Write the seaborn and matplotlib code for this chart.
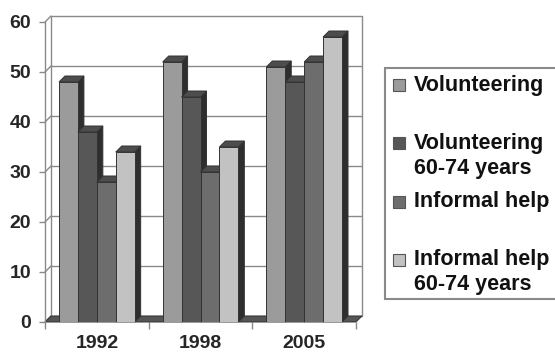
#!/usr/bin/env python3
# Volunteering / informal help by year, pseudo-3D grey bars like the old Excel chart

import numpy as np
import pandas as pd
import seaborn as sns
import matplotlib.pyplot as plt
from matplotlib.patches import Polygon, Rectangle

years = ['1992', '1998', '2005']
series = ['Volunteering', 'Volunteering\n60-74 years', 'Informal help', 'Informal help\n60-74 years']
volunteering = [48, 52, 51]
volunteering_6074 = [38, 45, 48]
informal = [28, 30, 52]
informal_6074 = [34, 35, 57]
yticks = [0, 10, 20, 30, 40, 50, 60]

front_cols = ['#9b9b9b', '#575757', '#6d6d6d', '#c2c2c2']
top_col = '#4d4d4d'
side_col = '#2e2e2e'
edge_col = '#333333'
grid_col = '#8a8a8a'
DX, DY = 6, 6  # depth offset in pixels

rows = []
for name, vals in zip(series, [volunteering, volunteering_6074, informal, informal_6074]):
    for yr, v in zip(years, vals):
        rows.append({'year': yr, 'series': name, 'value': v})
df = pd.DataFrame(rows)

sns.set_style('white')
plt.rcParams['font.family'] = ['Liberation Sans', 'DejaVu Sans']
plt.rcParams['font.weight'] = 'bold'

fig = plt.figure(figsize=(5.55, 3.55), dpi=100)
ax = fig.add_axes([45 / 555, 33 / 355, 311 / 555, 300 / 355])

sns.barplot(data=df, x='year', y='value', hue='series', hue_order=series, order=years,
            palette=front_cols, width=0.73, saturation=1, edgecolor=edge_col,
            linewidth=0.7, legend=False, ax=ax)
bars = list(ax.patches)

ax.set_xlim(-0.5, len(years) - 0.5)
ax.set_ylim(0, 60)

def off(x, y):
    # shift a data point by the depth offset (pixels) and bring it back to data coords
    d = ax.transData.transform((x, y)) + np.array([DX, DY])
    return tuple(ax.transData.inverted().transform(d))

x0, x1 = ax.get_xlim()
# back wall + gridlines
for yv in yticks:
    p0, p1 = off(x0, yv), off(x1, yv)
    ax.plot([p0[0], p1[0]], [p0[1], p1[1]], color=grid_col, lw=1, zorder=0.5, clip_on=False)
    ax.plot([x0, p0[0]], [yv, p0[1]], color=grid_col, lw=1, zorder=0.5, clip_on=False)
for xv in [x0, x1]:
    pb, pt = off(xv, 0), off(xv, 60)
    ax.plot([pb[0], pt[0]], [pb[1], pt[1]], color=grid_col, lw=1, zorder=0.5, clip_on=False)

# floor
floor = Polygon([(x0, 0), (x1, 0), off(x1, 0), off(x0, 0)], closed=True,
                facecolor='#555555', edgecolor=edge_col, lw=0.7, zorder=1, clip_on=False)
ax.add_patch(floor)

# depth faces, drawn left to right so each bar hides its neighbour's side
for i, p in enumerate(sorted(bars, key=lambda b: b.get_x())):
    bx, bw, bh = p.get_x(), p.get_width(), p.get_height()
    z = 2 + i * 0.1
    top = Polygon([(bx, bh), (bx + bw, bh), off(bx + bw, bh), off(bx, bh)], closed=True,
                  facecolor=top_col, edgecolor=edge_col, lw=0.7, zorder=z, clip_on=False)
    side = Polygon([(bx + bw, 0), (bx + bw, bh), off(bx + bw, bh), off(bx + bw, 0)], closed=True,
                   facecolor=side_col, edgecolor=edge_col, lw=0.7, zorder=z, clip_on=False)
    ax.add_patch(side)
    ax.add_patch(top)
    p.set_zorder(z + 0.05)

# axes styling
for s in ['top', 'right', 'bottom']:
    ax.spines[s].set_visible(False)
ax.spines['left'].set_color(grid_col)
ax.spines['left'].set_linewidth(1)
ax.set_yticks(yticks)
ax.set_yticklabels([str(v) for v in yticks], fontsize=14, fontweight='bold')
ax.tick_params(axis='y', direction='out', length=4, width=1, color=grid_col, pad=6, left=True)
ax.set_xticks(range(len(years)))
ax.set_xticklabels(years, fontsize=14, fontweight='bold')
ax.set_xticks(np.arange(-0.5, len(years), 1.0), minor=True)
ax.tick_params(axis='x', which='major', length=0, pad=9)
ax.tick_params(axis='x', which='minor', direction='out', length=5, width=1, color=grid_col, bottom=True)
ax.set_xlabel('')
ax.set_ylabel('')
ax.grid(False)

# legend, Excel style: marker sits next to the first line of each entry
W, H = 555, 355
fig.patches.append(Rectangle((385 / W, 1 - 299 / H), 200 / W, (299 - 68) / H,
                             transform=fig.transFigure, facecolor='white',
                             edgecolor=grid_col, lw=1.5, zorder=0))
for k, (name, col) in enumerate(zip(series, front_cols)):
    ytop = 85 + k * 58.3
    fig.patches.append(Rectangle((393 / W, 1 - (ytop + 6) / H), 12 / W, 12 / H,
                                 transform=fig.transFigure, facecolor=col,
                                 edgecolor='#555555', lw=0.8))
    for j, line in enumerate(name.split('\n')):
        fig.text(414 / W, 1 - (ytop + j * 25) / H, line, fontsize=15.5, fontweight='bold',
                 va='center', ha='left', color='#111111')

fig.savefig('out.png', dpi=100)
